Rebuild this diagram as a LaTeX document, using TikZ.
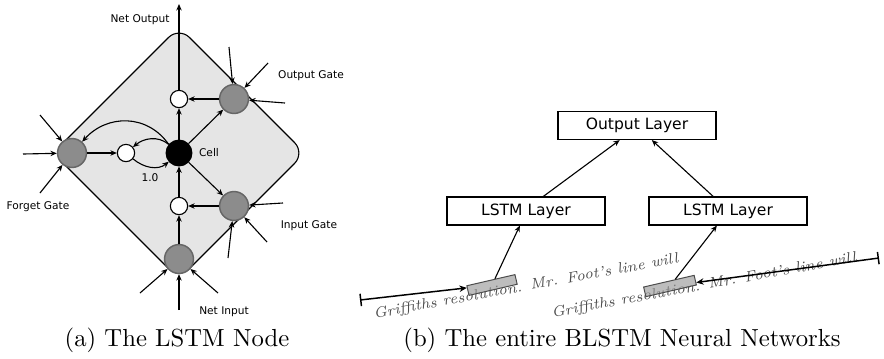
\documentclass[tikz,border=0pt]{standalone}
\usepackage{fontspec}
\newfontfamily\dejavu{DejaVu Sans}
\usetikzlibrary{arrows.meta}

\begin{document}
\begin{tikzpicture}[x=0.405pt,y=-0.405pt,
  arr/.style={line width=0.45pt, -{Stealth[length=2.6pt,width=2.2pt]}},
  gate/.style={circle, draw=black!60, line width=0.6pt, fill=black!45, minimum size=11.7pt, inner sep=0pt},
  mult/.style={circle, draw=black, line width=0.45pt, fill=white, minimum size=7pt, inner sep=0pt},
  lbl/.style={font=\dejavu\fontsize{4.3}{5}\selectfont, inner sep=0pt},
  layer/.style={draw, line width=0.5pt, minimum width=64pt, minimum height=11.3pt, inner sep=0pt,
                font=\dejavu\fontsize{6.3}{7}\selectfont},
  hand/.style={font=\itshape\fontsize{6}{6.5}\selectfont\addfontfeature{LetterSpace=12},
               text=black!70, rotate=10.4, inner sep=0pt},
  patch/.style={draw=black!70, fill=black!40, fill opacity=0.65, rotate=13, minimum height=4pt, inner sep=0pt}]

\useasboundingbox (0,0) rectangle (884,358);

% (a) the LSTM node
\draw [line width=0.45pt, fill=black!10, rounded corners=6pt]
    (179,27) -- (305,153) -- (179,279) -- (53,153) -- cycle;

\node [gate] (fg) at (72,153)  {};
\node [gate] (og) at (234,99)  {};
\node [gate] (ig) at (234,206) {};
\node [gate] (ni) at (179,259) {};
\node [mult] (fm) at (126,153) {};
\node [mult] (om) at (179,99)  {};
\node [mult] (im) at (179,206) {};
\node [circle, fill=black, draw=black, minimum size=10.5pt, inner sep=0pt] (cell) at (179,153) {};

\coordinate (out) at (179,4);
\coordinate (f1) at (23,154);   \coordinate (f2) at (40,115);   \coordinate (f3) at (40,193);
\coordinate (o1) at (229,47);   \coordinate (o2) at (268,63);   \coordinate (o3) at (285,103);
\coordinate (i1) at (283,203);  \coordinate (i2) at (267,242);  \coordinate (i3) at (228,258);
\coordinate (n1) at (179,310);  \coordinate (n2) at (140,293);  \coordinate (n3) at (218,293);

\foreach \s/\t in {f1/fg, f2/fg, f3/fg, o1/og, o2/og, o3/og, i1/ig, i2/ig, i3/ig, n1/ni, n2/ni, n3/ni}
  \draw [arr] (\s) -- (\t);

\foreach \s/\t in {ni/im, im/cell, ig/im, cell/om, og/om, fg/fm, cell/og, cell/ig}
  \draw [arr] (\s) -- (\t);
\draw [arr] (om) -- (out);

\draw [arr] (cell) to[out=140, in=40] (fm);
\draw [arr] (fm) to[out=-40, in=-140] (cell);
\draw [arr] (cell.140) to[out=125, in=48, looseness=1.1] (fg);

\node [lbl] (netout)  at (140,20)  {Net Output};
\node [lbl] (outgate) at (311,76)  {Output Gate};
\node [lbl] (celllbl) at (209,153) {Cell};
\node [lbl] (weight)  at (150,178) {1.0};
\node [lbl] (forget)  at (38,207)  {Forget Gate};
\node [lbl] (ingate)  at (309,226) {Input Gate};
\node [lbl] (netin)   at (224,312) {Net Input};

\node (capa) at (177,340) {(a) The LSTM Node};

% (b) the BLSTM network
\node [layer] (ol) at (637,125.5) {Output Layer};
\node [layer] (ll) at (526,211)   {LSTM Layer};
\node [layer] (rl) at (728,211)   {LSTM Layer};

\node [hand] (line1) at (526,287) {Griffiths resolution. Mr. Foot's line will};
\node [hand] (line2) at (704,286) {Griffiths resolution. Mr. Foot's line will};
\node [patch, minimum width=20pt] (patch1) at (492,285) {};
\node [patch, minimum width=21pt] (patch2) at (670,286) {};

\coordinate (lt) at (360,300);
\coordinate (rt) at (879,258);

\draw [arr] ([xshift=7pt]ll.north) -- ([xshift=-7pt]ol.south);
\draw [arr] ([xshift=-6pt]rl.north) -- ([xshift=6pt]ol.south);
\draw [arr] (patch1) -- ([xshift=-2.5pt]ll.south);
\draw [arr] (patch2) -- ([xshift=-4.5pt]rl.south);
\draw [line width=0.6pt, {Bar[width=5pt]}-{Stealth[length=3pt,width=2.6pt]}] (lt) -- (patch1);
\draw [line width=0.6pt, {Bar[width=5pt]}-{Stealth[length=3pt,width=2.6pt]}] (rt) -- (patch2);

\node (capb) at (622,340) {(b) The entire BLSTM Neural Networks};

\end{tikzpicture}
\end{document}
